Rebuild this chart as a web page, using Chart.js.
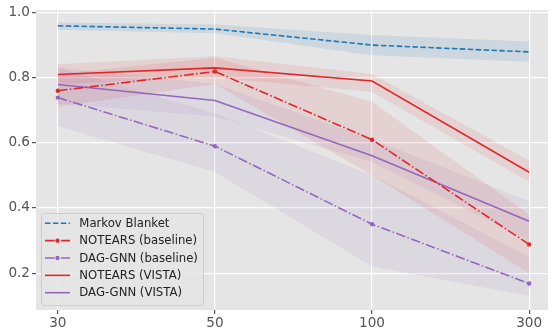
<!DOCTYPE html>
<html>
<head>
<meta charset="utf-8">
<script src="https://cdn.jsdelivr.net/npm/chart.js@4.4.1/dist/chart.umd.min.js"></script>
<style>
html,body{margin:0;padding:0;background:#fff;}
#wrap{width:552px;height:329px;}
</style>
</head>
<body>
<div id="wrap"><canvas id="c" width="552" height="329"></canvas></div>
<script>
// ---- data ----
const categories = ['30', '50', '100', '300'];
const yTicks = [0.2, 0.4, 0.6, 0.8, 1.0];

const markovBlanket      = [0.958, 0.948, 0.899, 0.878];
const markovBlanketLo    = [0.946, 0.935, 0.868, 0.848];
const markovBlanketHi    = [0.968, 0.962, 0.930, 0.910];

const notearsBaseline    = [0.759, 0.818, 0.609, 0.288];
const notearsBaselineLo  = [0.710, 0.780, 0.500, 0.200];
const notearsBaselineHi  = [0.810, 0.860, 0.725, 0.380];

const dagBaseline        = [0.738, 0.589, 0.350, 0.168];
const dagBaselineLo      = [0.650, 0.510, 0.220, 0.130];
const dagBaselineHi      = [0.830, 0.690, 0.500, 0.250];

const notearsVista       = [0.809, 0.829, 0.789, 0.509];
const notearsVistaLo     = [0.780, 0.800, 0.755, 0.480];
const notearsVistaHi     = [0.840, 0.865, 0.810, 0.545];

const dagVista           = [0.778, 0.729, 0.560, 0.359];
const dagVistaLo         = [0.720, 0.680, 0.540, 0.300];
const dagVistaHi         = [0.830, 0.780, 0.610, 0.420];

// ---- styles ----
const BLUE = '#1f77b4', RED = '#e0282b', PURPLE = '#9467bd';
const LW = 1.6;
const DASHED = [5.5, 2.4];
const DASHDOT = [9.6, 2.4, 1.5, 2.4];

function pts(arr){ return arr.map((v,i)=>({x:i, y:v})); }
function rgba(hex, a){
  const n = parseInt(hex.slice(1),16);
  return `rgba(${(n>>16)&255},${(n>>8)&255},${n&255},${a})`;
}

const series = [
  {label:'Markov Blanket', data:markovBlanket, lo:markovBlanketLo, hi:markovBlanketHi, color:BLUE, dash:DASHED, marker:false},
  {label:'NOTEARS (baseline)', data:notearsBaseline, lo:notearsBaselineLo, hi:notearsBaselineHi, color:RED, dash:DASHDOT, marker:true},
  {label:'DAG-GNN (baseline)', data:dagBaseline, lo:dagBaselineLo, hi:dagBaselineHi, color:PURPLE, dash:DASHDOT, marker:true},
  {label:'NOTEARS (VISTA)', data:notearsVista, lo:notearsVistaLo, hi:notearsVistaHi, color:RED, dash:[], marker:false},
  {label:'DAG-GNN (VISTA)', data:dagVista, lo:dagVistaLo, hi:dagVistaHi, color:PURPLE, dash:[], marker:false},
];

const datasets = [];
series.forEach(s => {
  datasets.push({label:'_lo', data:pts(s.lo), borderWidth:0, pointRadius:0, fill:false, order:10, isBand:true});
  datasets.push({label:'_hi', data:pts(s.hi), borderWidth:0, pointRadius:0, fill:'-1',
    backgroundColor:rgba(s.color, s.color===BLUE?0.12:0.10), order:10, isBand:true});
});
series.forEach(s => {
  datasets.push({label:s.label, data:pts(s.data), borderColor:s.color, backgroundColor:s.color,
    borderWidth:LW, borderDash:s.dash, pointRadius:s.marker?2.2:0, pointBorderWidth:0,
    pointBackgroundColor:s.color, fill:false, tension:0, order:0,
    legendDash:s.dash, legendMarker:s.marker});
});

const legendPlugin = {
  id:'boxLegend',
  afterDraw(chart){
    const ctx = chart.ctx;
    const x0 = 41, y0 = 213, w = 162, h = 92;
    ctx.save();
    ctx.beginPath();
    if (ctx.roundRect) ctx.roundRect(x0+0.5, y0+0.5, w, h, 3); else ctx.rect(x0+0.5,y0+0.5,w,h);
    ctx.fillStyle = 'rgba(229,229,229,0.8)';
    ctx.fill();
    ctx.strokeStyle = '#cccccc';
    ctx.lineWidth = 1;
    ctx.stroke();
    const rowY0 = 223.3, rowH = 17.35;
    ctx.font = '11.7px "DejaVu Sans"';
    ctx.textBaseline = 'middle';
    ctx.textAlign = 'left';
    series.forEach((s, i) => {
      const y = rowY0 + i*rowH;
      ctx.beginPath();
      ctx.setLineDash(s.dash);
      ctx.strokeStyle = s.color;
      ctx.lineWidth = LW;
      ctx.moveTo(45, y); ctx.lineTo(70, y);
      ctx.stroke();
      ctx.setLineDash([]);
      if (s.marker){
        ctx.beginPath();
        ctx.fillStyle = s.color;
        ctx.arc(57.5, y, 2.2, 0, Math.PI*2);
        ctx.fill();
      }
      ctx.fillStyle = '#222';
      ctx.fillText(s.label, 79.3, y+0.5);
    });
    ctx.restore();
  }
};

const bgPlugin = {
  id:'plotBg',
  beforeDraw(chart){
    const a = chart.chartArea, ctx = chart.ctx;
    ctx.save();
    ctx.fillStyle = '#e5e5e5';
    ctx.fillRect(a.left, a.top, a.right-a.left, a.bottom-a.top);
    ctx.restore();
  }
};

new Chart(document.getElementById('c'), {
  type:'line',
  data:{datasets},
  options:{
    responsive:false,
    animation:false,
    devicePixelRatio:1,
    layout:{padding:{top:9, right:0, left:0, bottom:0}},
    plugins:{legend:{display:false}, tooltip:{enabled:false}},
    scales:{
      x:{
        type:'linear', min:-0.139, max:3.12,
        afterBuildTicks(scale){ scale.ticks = categories.map((c,i)=>({value:i})); },
        afterFit(scale){ scale.height = 19; },
        ticks:{ callback:(v)=>categories[v], color:'#555', font:{family:'DejaVu Sans', size:13.6}, padding:1, maxRotation:0, autoSkip:false },
        grid:{ color:'#ffffff', lineWidth:1.2, tickColor:'#555', tickLength:4, drawTicks:true },
        border:{display:false}
      },
      y:{
        type:'linear', min:0.087, max:1.006,
        afterBuildTicks(scale){ scale.ticks = yTicks.map(v=>({value:v})); },
        afterFit(scale){ scale.width = 36; },
        ticks:{ callback:(v)=>v.toFixed(1), color:'#555', font:{family:'DejaVu Sans', size:13.6}, padding:2 },
        grid:{ color:'#ffffff', lineWidth:1.2, tickColor:'#555', tickLength:4, drawTicks:true },
        border:{display:false}
      }
    }
  },
  plugins:[bgPlugin, legendPlugin]
});
</script>
</body>
</html>
